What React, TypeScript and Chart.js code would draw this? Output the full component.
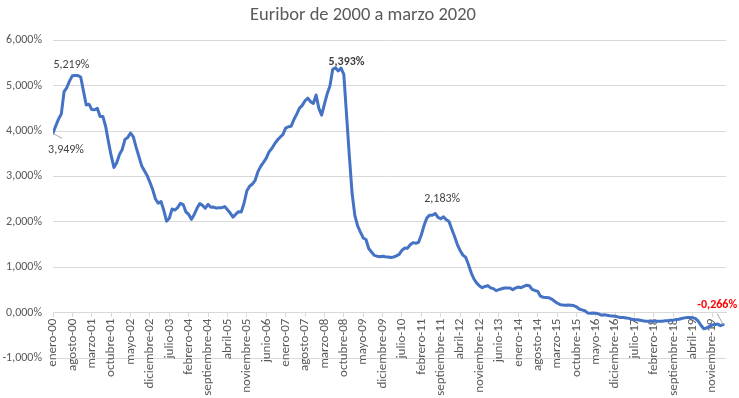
import { useEffect, useRef } from "react";
import { Chart, registerables } from "chart.js";

Chart.register(...registerables);

const FONT = "Carlito, Lato, 'Liberation Sans', sans-serif";
const TITLE = "Euribor de 2000 a marzo 2020";

const tickLabels = [
  "enero-00", "agosto-00", "marzo-01", "octubre-01", "mayo-02", "diciembre-02",
  "julio-03", "febrero-04", "septiembre-04", "abril-05", "noviembre-05", "junio-06",
  "enero-07", "agosto-07", "marzo-08", "octubre-08", "mayo-09", "diciembre-09",
  "julio-10", "febrero-11", "septiembre-11", "abril-12", "noviembre-12", "junio-13",
  "enero-14", "agosto-14", "marzo-15", "octubre-15", "mayo-16", "diciembre-16",
  "julio-17", "febrero-18", "septiembre-18", "abril-19", "noviembre-19",
];

const y2000 = [3.949, 4.114, 4.261, 4.375, 4.867, 4.957, 5.105, 5.219, 5.222, 5.220, 5.189, 4.881];
const y2001 = [4.574, 4.591, 4.471, 4.468, 4.502, 4.321, 4.321, 4.105, 3.768, 3.456, 3.198, 3.302];
const y2002 = [3.484, 3.594, 3.816, 3.859, 3.956, 3.869, 3.645, 3.440, 3.236, 3.126, 3.017, 2.870];
const y2003 = [2.709, 2.502, 2.410, 2.446, 2.254, 2.013, 2.079, 2.282, 2.258, 2.312, 2.408, 2.380];
const y2004 = [2.216, 2.163, 2.055, 2.163, 2.297, 2.404, 2.360, 2.299, 2.382, 2.319, 2.325, 2.301];
const y2005 = [2.312, 2.310, 2.335, 2.265, 2.193, 2.103, 2.168, 2.223, 2.218, 2.414, 2.684, 2.783];
const y2006 = [2.833, 2.914, 3.105, 3.221, 3.308, 3.401, 3.539, 3.615, 3.715, 3.799, 3.864, 3.921];
const y2007 = [4.064, 4.094, 4.106, 4.253, 4.373, 4.505, 4.564, 4.666, 4.725, 4.647, 4.607, 4.793];
const y2008 = [4.498, 4.349, 4.590, 4.820, 4.994, 5.361, 5.393, 5.323, 5.384, 5.248, 4.350, 3.452];
const y2009 = [2.622, 2.135, 1.909, 1.771, 1.644, 1.610, 1.412, 1.334, 1.261, 1.243, 1.231, 1.242];
const y2010 = [1.232, 1.225, 1.215, 1.225, 1.249, 1.281, 1.373, 1.421, 1.420, 1.495, 1.541, 1.526];
const y2011 = [1.550, 1.714, 1.924, 2.086, 2.147, 2.144, 2.183, 2.097, 2.067, 2.110, 2.044, 2.004];
const y2012 = [1.837, 1.678, 1.499, 1.368, 1.266, 1.219, 1.061, 0.877, 0.740, 0.650, 0.588, 0.549];
const y2013 = [0.575, 0.594, 0.545, 0.528, 0.484, 0.507, 0.525, 0.542, 0.543, 0.541, 0.506, 0.543];
const y2014 = [0.562, 0.549, 0.577, 0.604, 0.592, 0.513, 0.488, 0.469, 0.362, 0.338, 0.335, 0.329];
const y2015 = [0.298, 0.255, 0.212, 0.180, 0.165, 0.163, 0.167, 0.161, 0.154, 0.128, 0.079, 0.059];
const y2016 = [0.042, -0.008, -0.012, -0.010, -0.013, -0.028, -0.056, -0.048, -0.057, -0.069, -0.074, -0.080];
const y2017 = [-0.095, -0.106, -0.110, -0.119, -0.127, -0.149, -0.154, -0.156, -0.168, -0.180, -0.189, -0.190];
const y2018 = [-0.189, -0.191, -0.191, -0.190, -0.188, -0.181, -0.180, -0.169, -0.166, -0.154, -0.147, -0.129];
const y2019 = [-0.116, -0.108, -0.109, -0.112, -0.134, -0.190, -0.283, -0.356, -0.339, -0.304, -0.272, -0.261];
const y2020 = [-0.253, -0.288, -0.266];

const euribor = [
  ...y2000, ...y2001, ...y2002, ...y2003, ...y2004, ...y2005, ...y2006,
  ...y2007, ...y2008, ...y2009, ...y2010, ...y2011, ...y2012, ...y2013,
  ...y2014, ...y2015, ...y2016, ...y2017, ...y2018, ...y2019, ...y2020,
];

// Highlighted points (indices into euribor) and how their labels are placed
const annotations = [
  { index: 0, dx: 13, dy: 17, color: "#404040", bold: false, leader: [9, 5] },
  { index: 7, dx: -1, dy: -11, color: "#404040", bold: false, leader: null },
  { index: 102, dx: 11, dy: -6, color: "#404040", bold: true, leader: null },
  { index: 138, dx: 7, dy: -14, color: "#404040", bold: false, leader: null },
  { index: 242, dx: -6, dy: -20, color: "#ff0000", bold: true, leader: [-6, -11] },
];

const fmt = (v: number) => v.toFixed(3).replace(".", ",") + "%";

const labelPlugin = {
  id: "pointLabels",
  afterDatasetsDraw(chart: any) {
    const meta = chart.getDatasetMeta(0);
    const ctx = chart.ctx as CanvasRenderingContext2D;
    ctx.save();
    for (const a of annotations) {
      const pt = meta.data[a.index];
      if (!pt) continue;
      const x = pt.x;
      const y = pt.y;
      if (a.leader) {
        ctx.strokeStyle = "#a6a6a6";
        ctx.lineWidth = 1;
        ctx.beginPath();
        ctx.moveTo(x, y);
        ctx.lineTo(x + a.leader[0], y + a.leader[1]);
        ctx.stroke();
      }
      ctx.font = `${a.bold ? "bold " : ""}12px ${FONT}`;
      ctx.fillStyle = a.color;
      ctx.textAlign = "center";
      ctx.textBaseline = "middle";
      ctx.fillText(fmt(euribor[a.index]), x + a.dx, y + a.dy);
    }
    ctx.restore();
  },
};

export default function App() {
  const ref = useRef<HTMLCanvasElement>(null);
  useEffect(() => {
    document.body.style.margin = "0";
    const chart = new Chart(ref.current!, {
      type: "line",
      data: {
        datasets: [
          {
            data: euribor.map((v, i) => ({ x: i, y: v })),
            borderColor: "#4472C4",
            borderWidth: 3,
            pointRadius: 0,
            tension: 0,
            fill: false,
            borderJoinStyle: "round",
            borderCapStyle: "round",
          },
        ],
      },
      options: {
        animation: false,
        responsive: false,
        maintainAspectRatio: false,
        layout: { padding: { left: 0, right: 13, top: 0, bottom: 40 } },
        plugins: {
          legend: { display: false },
          tooltip: { enabled: false },
          title: {
            display: true,
            text: TITLE,
            color: "#595959",
            font: { family: FONT, size: 18.5, weight: "normal" },
            padding: { top: 4, bottom: 14 },
          },
        },
        scales: {
          x: {
            type: "linear",
            min: 0,
            max: 243,
            position: { y: 0 },
            afterBuildTicks: (s: any) => {
              s.ticks = tickLabels.map((_, i) => ({ value: i * 7 }));
            },
            ticks: {
              autoSkip: false,
              minRotation: 90,
              maxRotation: 90,
              color: "#595959",
              font: { family: FONT, size: 13 },
              padding: 2,
              callback: (v: any) => tickLabels[Math.round(Number(v) / 7)] ?? "",
            },
            grid: { drawOnChartArea: false, drawTicks: true, tickLength: 4, color: "#d9d9d9" },
            border: { display: true, color: "#d9d9d9" },
          },
          y: {
            min: -1,
            max: 6,
            afterFit: (s: any) => {
              s.width = 53;
            },
            ticks: {
              stepSize: 1,
              color: "#595959",
              font: { family: FONT, size: 12 },
              padding: 11,
              callback: (v: any) => fmt(Number(v)),
            },
            grid: { color: "#d9d9d9", drawTicks: false },
            border: { display: false },
          },
        },
      } as any,
      plugins: [labelPlugin],
    });
    return () => chart.destroy();
  }, []);
  return (
    <div style={{ width: 739, height: 398 }}>
      <canvas ref={ref} width={739} height={398} style={{ display: "block", width: 739, height: 398 }} />
    </div>
  );
}
